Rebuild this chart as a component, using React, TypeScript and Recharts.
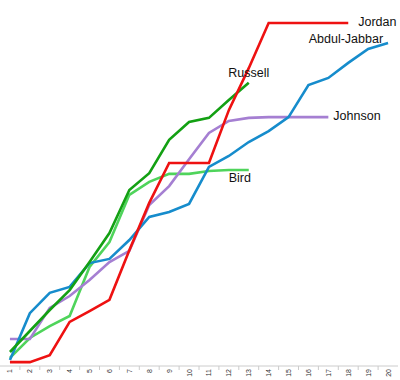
import React from 'react';
import { LineChart, Line, XAxis, YAxis, LabelList } from 'recharts';

const seasons = [1, 2, 3, 4, 5, 6, 7, 8, 9, 10, 11, 12, 13, 14, 15, 16, 17, 18, 19, 20];

const jordan = [1.1, 1.1, 3.1, 12.6, 15.7, 18.9, 33.1, 46.6, 58, 58, 58, 73.1, 85.1, 98, 98, 98, 98, 98];
const abdulJabbar = [1.7, 15.1, 20.9, 22.6, 29.4, 30.6, 36, 42.6, 44, 46.3, 56.9, 60, 64, 67.1, 71.1, 80.3, 82.3, 86.6, 90.6, 92.3];
const russell = [4, 10, 16, 21.7, 29.7, 38, 50.3, 55.1, 64.6, 69.7, 70.9, 76, 80.9];
const bird = [2.3, 8, 11.4, 14.3, 28.3, 35.4, 48.9, 52.6, 54.9, 54.9, 55.7, 56, 56];
const johnson = [7.7, 7.7, 16.6, 20, 24.6, 29.7, 32.9, 46, 51.4, 59.1, 66.6, 70, 70.9, 71.1, 71.1, 71.1, 71.1];

const series = [
  { key: 'Bird', values: bird, color: '#4fd45b', dx: -9, dy: 8, anchor: 'middle' },
  { key: 'Johnson', values: johnson, color: '#a57fd2', dx: 5, dy: -1, anchor: 'start' },
  { key: 'Abdul-Jabbar', values: abdulJabbar, color: '#168ccc', dx: -5, dy: -4, anchor: 'end' },
  { key: 'Russell', values: russell, color: '#13a013', dx: 0, dy: -10, anchor: 'middle' },
  { key: 'Jordan', values: jordan, color: '#ee1111', dx: 10, dy: -1, anchor: 'start' },
];

const data = seasons.map((s, i) => {
  const row: Record<string, number | undefined> = { season: s };
  series.forEach(sr => {
    row[sr.key] = sr.values[i];
  });
  return row;
});

// label rotated, plus a small tick mark halfway to the next category (Excel style)
const SeasonTick = (props: any) => {
  const { x, y, payload, width, index } = props;
  const half = width / seasons.length / 2;
  return (
    <g>
      {index < seasons.length - 1 && (
        <line x1={x + half} x2={x + half} y1={y} y2={y + 4} stroke="#cccccc" strokeWidth={1} />
      )}
      <text
        x={x}
        y={y + 3}
        transform={`rotate(-90, ${x}, ${y + 3})`}
        textAnchor="end"
        dominantBaseline="central"
        fontSize={7}
        fill="#333"
        fontFamily="Liberation Sans, Arial, sans-serif"
      >
        {payload.value}
      </text>
    </g>
  );
};

function endLabel(sr: typeof series[number]) {
  return (props: any) => {
    const { x, y, index } = props;
    if (index !== sr.values.length - 1) return null;
    return (
      <text
        x={x + sr.dx}
        y={y + sr.dy}
        textAnchor={sr.anchor}
        dominantBaseline="central"
        fontSize={12.5}
        fill="#111"
        fontFamily="Liberation Sans, Arial, sans-serif"
      >
        {sr.key}
      </text>
    );
  };
}

export default function App() {
  return (
    <div style={{ position: 'absolute', left: 0, top: 0, background: '#fff' }}>
      <LineChart width={400} height={380} data={data} margin={{ top: 16, right: 2, left: 0, bottom: 0 }}>
        <XAxis
          type="number"
          dataKey="season"
          domain={[0.5, 20.5]}
          ticks={seasons}
          interval={0}
          tick={<SeasonTick />}
          tickLine={false}
          tickSize={0}
          tickMargin={0}
          stroke="#cccccc"
          height={14}
          allowDataOverflow
        />
        <YAxis hide domain={[0, 100]} />
        {series.map(sr => (
          <Line
            key={sr.key}
            dataKey={sr.key}
            stroke={sr.color}
            strokeWidth={2.6}
            dot={false}
            type="linear"
            isAnimationActive={false}
          >
            <LabelList dataKey={sr.key} content={endLabel(sr)} />
          </Line>
        ))}
      </LineChart>
    </div>
  );
}
